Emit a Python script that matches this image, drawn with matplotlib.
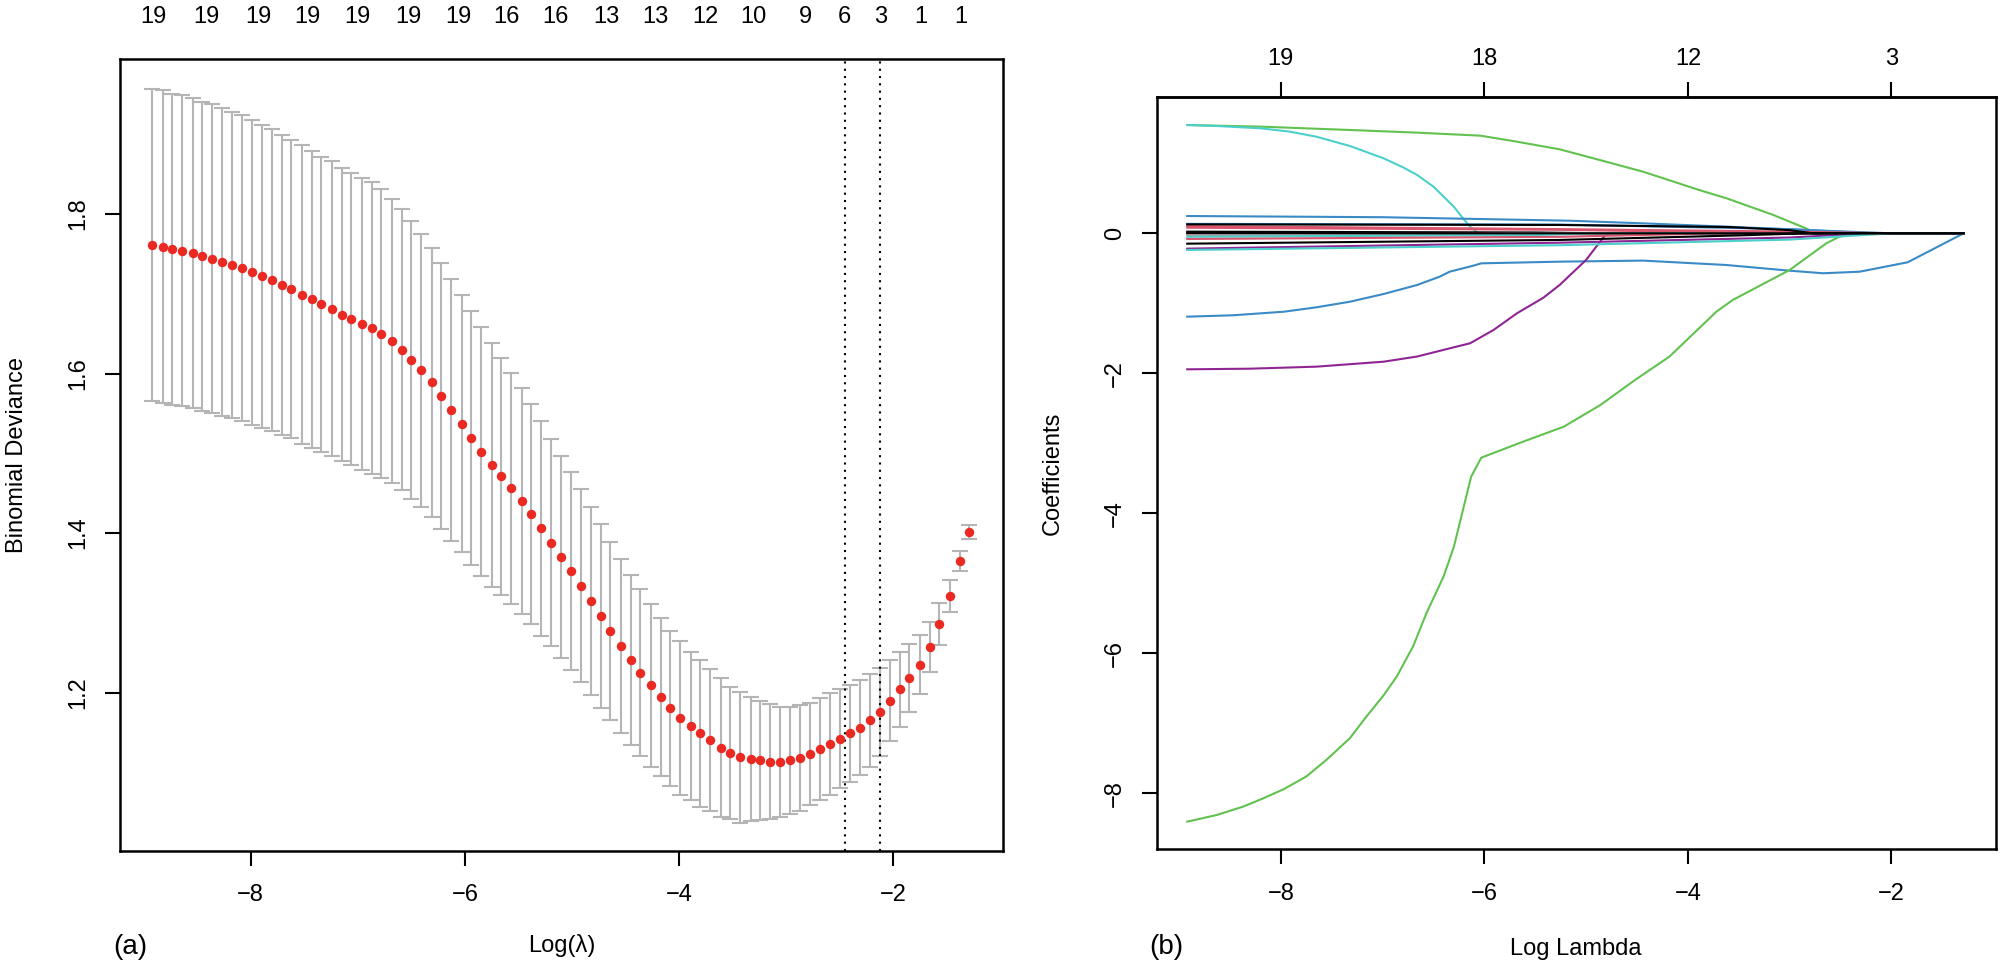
import matplotlib
matplotlib.use("Agg")
import matplotlib.pyplot as plt
from matplotlib.transforms import blended_transform_factory

plt.rcParams['font.family'] = ['Liberation Sans', 'DejaVu Sans']

# ---- panel (a): cross-validation curve ----
log_lambda = [-8.92, -8.82, -8.73, -8.64, -8.54, -8.45, -8.36, -8.27, -8.17, -8.08,
              -7.99, -7.89, -7.80, -7.71, -7.62, -7.52, -7.43, -7.34, -7.24, -7.15,
              -7.06, -6.96, -6.87, -6.78, -6.68, -6.59, -6.50, -6.41, -6.31, -6.22,
              -6.13, -6.03, -5.94, -5.85, -5.75, -5.66, -5.57, -5.47, -5.38, -5.29,
              -5.20, -5.10, -5.01, -4.92, -4.82, -4.73, -4.64, -4.54, -4.45, -4.36,
              -4.26, -4.17, -4.08, -3.99, -3.89, -3.80, -3.71, -3.61, -3.52, -3.43,
              -3.33, -3.24, -3.15, -3.06, -2.96, -2.87, -2.78, -2.68, -2.59, -2.50,
              -2.40, -2.31, -2.22, -2.12, -2.03, -1.94, -1.85, -1.75, -1.66, -1.57,
              -1.47, -1.38, -1.29]
cvm = [1.761, 1.759, 1.756, 1.754, 1.751, 1.747, 1.744, 1.740, 1.736, 1.732,
       1.727, 1.722, 1.717, 1.711, 1.706, 1.699, 1.693, 1.687, 1.681, 1.674,
       1.668, 1.662, 1.657, 1.650, 1.641, 1.630, 1.617, 1.604, 1.589, 1.572,
       1.554, 1.537, 1.519, 1.502, 1.485, 1.471, 1.456, 1.440, 1.424, 1.406,
       1.388, 1.370, 1.352, 1.334, 1.315, 1.296, 1.277, 1.258, 1.241, 1.225,
       1.209, 1.194, 1.180, 1.168, 1.158, 1.149, 1.140, 1.131, 1.124, 1.119,
       1.117, 1.115, 1.113, 1.113, 1.115, 1.118, 1.123, 1.129, 1.135, 1.142,
       1.149, 1.156, 1.165, 1.176, 1.190, 1.204, 1.218, 1.235, 1.257, 1.286,
       1.321, 1.365, 1.401]
cvsd = [0.196, 0.196, 0.195, 0.195, 0.194, 0.194, 0.194, 0.193, 0.192, 0.192,
        0.191, 0.190, 0.189, 0.188, 0.187, 0.187, 0.186, 0.185, 0.185, 0.184,
        0.183, 0.183, 0.183, 0.181, 0.178, 0.176, 0.174, 0.171, 0.169, 0.167,
        0.164, 0.161, 0.159, 0.156, 0.153, 0.149, 0.145, 0.142, 0.138, 0.135,
        0.130, 0.127, 0.124, 0.121, 0.118, 0.115, 0.112, 0.109, 0.107, 0.105,
        0.102, 0.099, 0.097, 0.096, 0.093, 0.092, 0.089, 0.087, 0.083, 0.082,
        0.078, 0.075, 0.072, 0.069, 0.067, 0.066, 0.064, 0.064, 0.064, 0.062,
        0.061, 0.060, 0.058, 0.055, 0.051, 0.047, 0.043, 0.037, 0.031, 0.026,
        0.020, 0.013, 0.009]
nz_pos = [-8.91, -8.41, -7.93, -7.47, -7.00, -6.53, -6.06, -5.61, -5.15,
          -4.68, -4.22, -3.75, -3.31, -2.82, -2.46, -2.12, -1.74, -1.37]
nz_lab = ["19", "19", "19", "19", "19", "19", "19", "16", "16",
          "13", "13", "12", "10", "9", "6", "3", "1", "1"]
lambda_lines = [-2.45, -2.12]

# ---- panel (b): coefficient paths ----
top_ticks = [-8, -6, -4, -2]
top_labels = ["19", "18", "12", "3"]

green_top_x = [-8.92, -8.2, -7.32, -6.66, -6.04, -5.68, -5.26, -4.84, -4.44, -3.89,
               -3.62, -3.16, -2.84, -2.74, -1.29]
green_top_y = [1.547, 1.524, 1.476, 1.438, 1.395, 1.309, 1.2, 1.037, 0.88, 0.619,
               0.50, 0.262, 0.071, 0.0, 0.0]
cyan_top_x = [-8.92, -8.63, -8.2, -7.91, -7.65, -7.32, -6.99, -6.8, -6.66, -6.5,
              -6.4, -6.3, -6.21, -6.14, -6.06, -1.29]
cyan_top_y = [1.547, 1.533, 1.50, 1.452, 1.38, 1.247, 1.071, 0.943, 0.833, 0.666,
              0.523, 0.38, 0.214, 0.095, 0.0, 0.0]
blue_top_x = [-8.92, -7.0, -5.16, -4.4, -3.62, -2.8, -2.0, -1.29]
blue_top_y = [0.247, 0.23, 0.18, 0.14, 0.095, 0.045, 0.0, 0.0]
blue_neg_x = [-8.92, -8.47, -7.97, -7.65, -7.32, -6.99, -6.66, -6.44, -6.34, -6.21,
              -6.12, -6.03, -5.26, -4.44, -3.62, -3.0, -2.67, -2.31, -1.84, -1.29]
blue_neg_y = [-1.191, -1.171, -1.12, -1.057, -0.977, -0.867, -0.738, -0.62, -0.548, -0.5,
              -0.467, -0.429, -0.405, -0.39, -0.453, -0.534, -0.571, -0.548, -0.414, 0.0]
purple_neg_x = [-8.92, -8.3, -7.65, -6.99, -6.66, -6.34, -6.14, -5.91, -5.68, -5.42,
                -5.26, -5.0, -4.8, -1.29]
purple_neg_y = [-1.943, -1.934, -1.905, -1.834, -1.76, -1.643, -1.571, -1.381, -1.143, -0.92,
                -0.738, -0.38, 0.0, 0.0]
green_neg_x = [-8.92, -8.63, -8.37, -8.17, -7.97, -7.75, -7.55, -7.32, -7.16, -6.99,
               -6.86, -6.7, -6.57, -6.4, -6.3, -6.21, -6.13, -6.03, -5.62, -5.22,
               -4.86, -4.52, -4.18, -3.72, -3.56, -3.0, -2.64, -2.51, -2.41, -1.29]
green_neg_y = [-8.405, -8.31, -8.19, -8.07, -7.94, -7.76, -7.52, -7.21, -6.905, -6.6,
               -6.33, -5.9, -5.43, -4.9, -4.48, -3.95, -3.477, -3.205, -2.977, -2.763,
               -2.453, -2.096, -1.76, -1.12, -0.953, -0.524, -0.143, -0.048, 0.0, 0.0]
# small coefficients close to zero
blue2_x = [-8.92, -5.26, -3.0, -2.2, -1.29]
blue2_y = [0.135, 0.125, 0.06, 0.0, 0.0]
red1_x = [-8.92, -5.26, -3.0, -2.0, -1.29]
red1_y = [0.104, 0.06, 0.025, 0.0, 0.0]
red2_x = [-8.92, -5.26, -3.5, -3.35, -1.29]
red2_y = [0.08, 0.05, 0.01, 0.0, 0.0]
black2_x = [-8.92, -5.5, -4.8, -1.29]
black2_y = [0.024, 0.012, 0.0, 0.0]
red3_x = [-8.92, -6.2, -5.8, -1.29]
red3_y = [-0.01, -0.005, 0.0, 0.0]
gray_x = [-8.92, -6.0, -5.7, -1.29]
gray_y = [-0.029, -0.01, 0.0, 0.0]
cyan2_x = [-8.92, -5.5, -4.9, -1.29]
cyan2_y = [-0.05, -0.025, 0.0, 0.0]
red4_x = [-8.92, -5.26, -4.0, -3.8, -1.29]
red4_y = [-0.081, -0.05, -0.01, 0.0, 0.0]
black3_x = [-8.92, -5.26, -3.5, -2.85, -1.29]
black3_y = [-0.148, -0.095, -0.03, 0.0, 0.0]
purple2_x = [-8.92, -5.26, -3.0, -2.2, -1.29]
purple2_y = [-0.219, -0.134, -0.06, 0.0, 0.0]
cyan3_x = [-8.92, -5.26, -3.0, -2.0, -1.29]
cyan3_y = [-0.238, -0.17, -0.09, 0.0, 0.0]
black4_x = [-8.92, -6.3, -1.29]
black4_y = [0.005, 0.0, 0.0]
black1_x = [-8.92, -5.26, -3.6, -3.0, -2.77, -1.29]
black1_y = [0.128, 0.119, 0.09, 0.045, 0.0, 0.0]

GREEN = "#62C24F"
CYAN = "#4BD0CB"
BLUE = "#3A8AC6"
PURPLE = "#8E2592"
RED = "#D9546C"
BLACK = "#000000"
GRAY = "#A0A0A0"

paths = [
    (green_top_x, green_top_y, GREEN),
    (cyan_top_x, cyan_top_y, CYAN),
    (blue_top_x, blue_top_y, BLUE),
    (blue_neg_x, blue_neg_y, BLUE),
    (purple_neg_x, purple_neg_y, PURPLE),
    (green_neg_x, green_neg_y, GREEN),
    (blue2_x, blue2_y, BLUE),
    (red1_x, red1_y, RED),
    (red2_x, red2_y, RED),
    (black2_x, black2_y, BLACK),
    (red3_x, red3_y, RED),
    (gray_x, gray_y, GRAY),
    (cyan2_x, cyan2_y, CYAN),
    (red4_x, red4_y, RED),
    (black3_x, black3_y, BLACK),
    (purple2_x, purple2_y, PURPLE),
    (cyan3_x, cyan3_y, CYAN),
    (black4_x, black4_y, BLACK),
    (black1_x, black1_y, BLACK),
]

FS = 17
W, H = 2000, 972
fig = plt.figure(figsize=(W / 100, H / 100), dpi=100)


def frac_box(left, top, right, bottom):
    return [left / W, 1 - bottom / H, (right - left) / W, (bottom - top) / H]


def style_axes(ax):
    for s in ax.spines.values():
        s.set_linewidth(1.8)
    ax.tick_params(axis='both', direction='out', length=11, width=1.5,
                   labelsize=FS, pad=13)
    ax.tick_params(axis='y', pad=11)
    for lab in ax.get_yticklabels():
        lab.set_rotation(90)
        lab.set_va('center')


# panel (a)
ax1 = fig.add_axes(frac_box(120, 59, 1003, 851))
ax1.errorbar(log_lambda, cvm, yerr=cvsd, fmt='none', ecolor="#B5B5B5",
             elinewidth=1.5, capsize=6, capthick=1.5, zorder=1)
ax1.plot(log_lambda, cvm, 'o', color="#EA2A22", markersize=6.8,
         markeredgewidth=0, zorder=3)
for v in lambda_lines:
    ax1.axvline(v, color='black', linestyle=(0, (1, 2.5)), linewidth=1.5, zorder=2)
ax1.set_xlim(-9.22, -0.975)
ax1.set_ylim(1.0013, 1.9944)
ax1.set_xticks([-8, -6, -4, -2])
ax1.set_yticks([1.2, 1.4, 1.6, 1.8])
ax1.set_yticklabels(["1.2", "1.4", "1.6", "1.8"])
style_axes(ax1)
ax1.set_xlabel("Log(λ)", fontsize=FS)
ax1.set_ylabel("Binomial Deviance", fontsize=FS)
ax1.xaxis.set_label_coords(0.5, -0.105)
ax1.yaxis.set_label_coords((28 - 120) / 883, 0.5)
tr1 = blended_transform_factory(ax1.transData, ax1.transAxes)
for p, lab in zip(nz_pos, nz_lab):
    ax1.text(p, 1.0455, lab, transform=tr1, ha='center', va='baseline', fontsize=FS)
fig.text(113 / W, 1 - 947 / H, "(a)", ha='left', va='center', fontsize=20)

# panel (b)
ax2 = fig.add_axes(frac_box(1156.7, 97.3, 1995.7, 849.3))
for px, py, c in paths:
    ax2.plot(px, py, color=c, linewidth=1.5)
ax2.set_xlim(-9.22, -0.975)
ax2.set_ylim(-8.8, 1.943)
ax2.set_xticks([-8, -6, -4, -2])
ax2.set_yticks([-8, -6, -4, -2, 0])
ax2.set_yticklabels(["\u22128", "\u22126", "\u22124", "\u22122", "0"])
style_axes(ax2)
ax2.set_xlabel("Log Lambda", fontsize=FS)
ax2.set_ylabel("Coefficients", fontsize=FS)
ax2.xaxis.set_label_coords(0.5, -0.118)
ax2.yaxis.set_label_coords((1064 - 1156.7) / 839, 0.5)
sec = ax2.secondary_xaxis('top')
sec.set_xticks(top_ticks)
sec.set_xticklabels(top_labels)
sec.spines['top'].set_linewidth(1.8)
sec.tick_params(direction='out', length=11, width=1.5, labelsize=FS, pad=9)
fig.text(1149 / W, 1 - 947 / H, "(b)", ha='left', va='center', fontsize=20)

fig.savefig("out.png", dpi=100)
